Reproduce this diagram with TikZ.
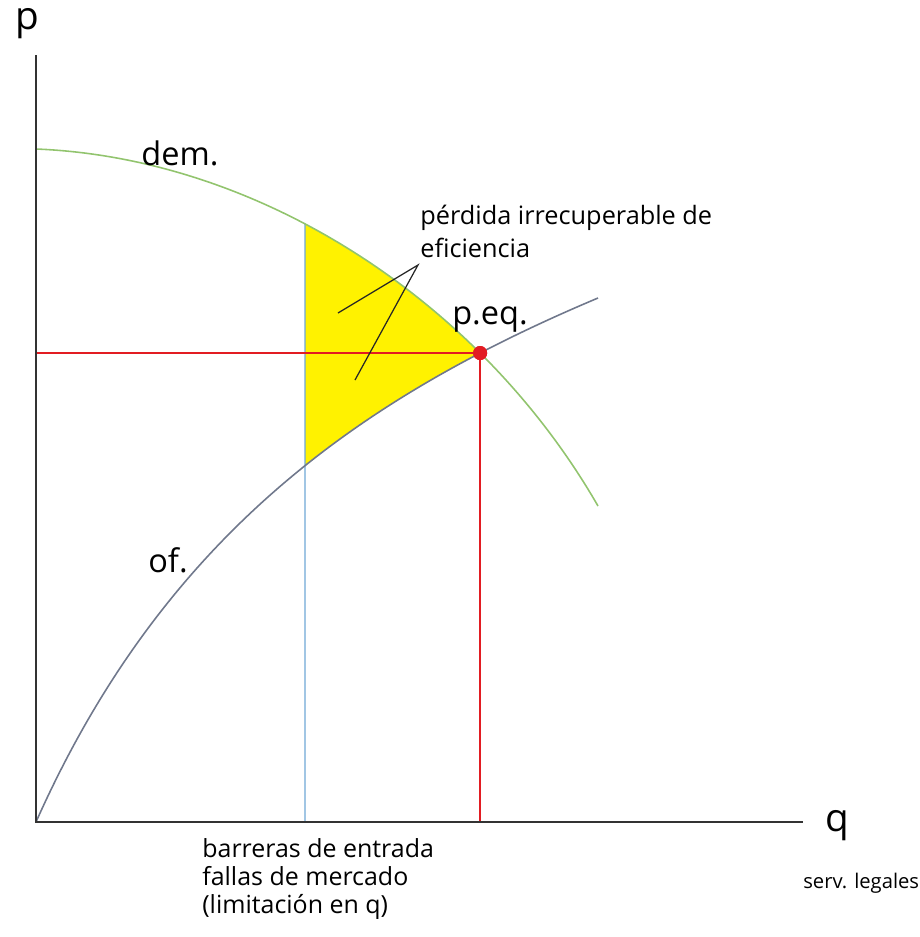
\documentclass[tikz,border=0pt]{standalone}
\usepackage{fontspec}
\setmainfont{Open Sans}
\usetikzlibrary{intersections}
\definecolor{demgreen}{RGB}{146,196,110}
\definecolor{ofgray}{RGB}{112,120,140}
\definecolor{limblue}{RGB}{110,168,214}
\definecolor{eqred}{RGB}{226,28,34}
\def\demcurve{(36,149) .. controls (260,158) and (480,301) .. (598,506)}
\def\ofcurve{(36,822) .. controls (166,530) and (368,395) .. (598,298)}
\begin{document}
\begin{tikzpicture}[x=0.02cm,y=-0.02cm,
		lbl/.style={font=\fontsize{14.2}{15.9}\selectfont, inner sep=0pt},
		curvelbl/.style={font=\fontsize{18.5}{22}\selectfont, inner sep=0pt},
		axislbl/.style={font=\fontsize{22}{26}\selectfont, inner sep=0pt},
		eqdot/.style={circle, fill=eqred, inner sep=0pt, minimum size=8pt}]
	\useasboundingbox (0,0) rectangle (920,937);
	\coordinate (O) at (36,822);
	\coordinate (ptop) at (36,55);
	\coordinate (qend) at (803,822);
	\coordinate (qlim) at (305,822);

	\path[name path=dem] \demcurve;
	\path[name path=of] \ofcurve;
	\path[name path=lim] (305,0) -- (305,937);
	\path[name intersections={of=dem and of, by=eqpt}];
	\path[name intersections={of=dem and lim, by=plim}];
	\coordinate (pe) at (O |- eqpt);
	\coordinate (qe) at (eqpt |- O);

	% deadweight loss
	\begin{scope}
		\clip (305,0) rectangle (920,937);
		\clip \demcurve -- (598,937) -- (0,937) -- cycle;
		\fill[yellow] \ofcurve -- (598,0) -- (0,0) -- cycle;
	\end{scope}

	\draw[limblue,line width=0.8pt] (qlim) -- (plim);
	\draw[demgreen,line width=0.9pt] \demcurve;
	\draw[ofgray,line width=0.9pt] \ofcurve;
	\node[eqdot] (eq) at (eqpt) {};
	\draw[eqred,line width=0.9pt] (pe) -- (eq.center) -- (qe);
	\node[eqdot] at (eq) {};

	\draw[black!80,line width=1.1pt] (ptop) -- (O) -- (qend);
	\node[axislbl] (plabel) at (27,24) {p};
	\node[axislbl] (qlabel) at (837,826) {q};
	\node[lbl, font=\fontsize{11.5}{14}\selectfont, anchor=north west] (serv) at (803,873) {serv. legales};

	\node[curvelbl] (dem) at (180,153) {dem.};
	\node[curvelbl] (of) at (168,560) {of.};
	\node[curvelbl] (peq) at (490,320) {p.eq.};

	\node[lbl, anchor=north west, align=left, font=\fontsize{14.4}{18.7}\selectfont] (loss) at (420,205) {pérdida irrecuperable de\\eficiencia};
	\coordinate (apex) at (418,265);
	\coordinate (lossA) at (338,313);
	\coordinate (lossB) at (355,380);
	\draw[black!85,line width=0.7pt] (lossA) -- (apex) -- (lossB);

	\node[lbl, anchor=north west, align=left] (barr) at (202,838) {barreras de entrada\\fallas de mercado\\(limitación en q)};
\end{tikzpicture}
\end{document}
